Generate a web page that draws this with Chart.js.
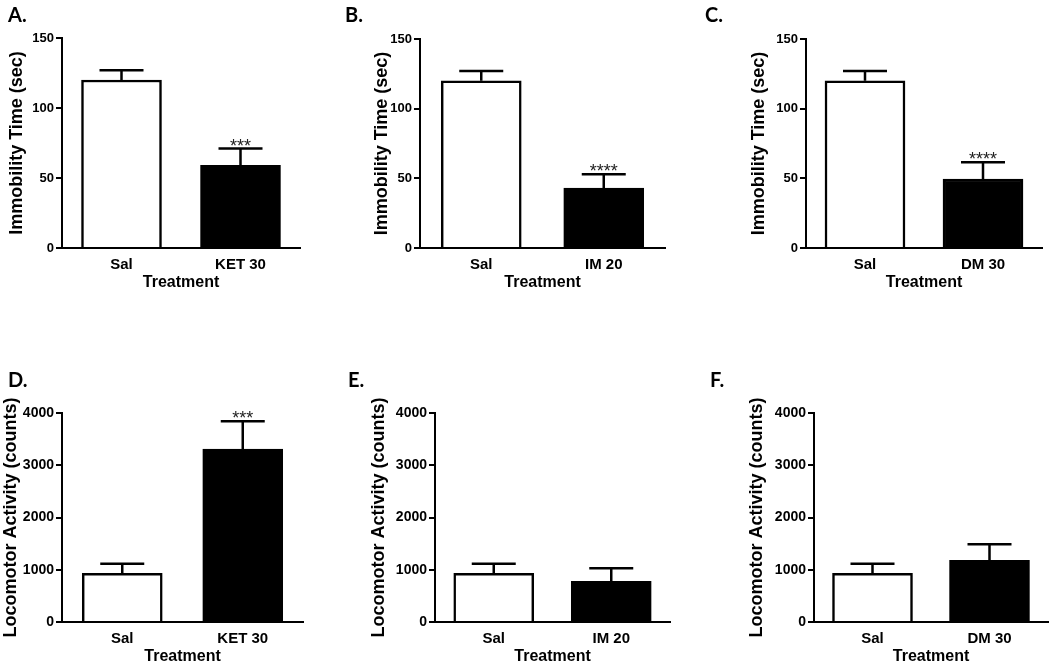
<!DOCTYPE html>
<html>
<head>
<meta charset="utf-8">
<script src="https://cdn.jsdelivr.net/npm/chart.js@4"></script>
<style>
  html, body { margin: 0; padding: 0; background: #fff; width: 1050px; height: 664px; overflow: hidden; }
  canvas { position: absolute; }
  .tag { position: absolute; font: bold 20px Lato, "Open Sans", sans-serif; line-height: 1; color: #000; }
</style>
</head>
<body>
<script>
// categories
const ketLabels = ["Sal", "KET 30"];
const imLabels = ["Sal", "IM 20"];
const dmLabels = ["Sal", "DM 30"];

// forced swim test, immobility (sec), mean and SEM
const immobilityKet = [120, 59];
const immobilityKetErr = [7, 12];
const immobilityIm = [120, 43];
const immobilityImErr = [7, 10];
const immobilityDm = [120, 49.5];
const immobilityDmErr = [7, 12];

// locomotor activity (counts), mean and SEM
const locomotorKet = [930, 3310];
const locomotorKetErr = [185, 530];
const locomotorIm = [930, 780];
const locomotorImErr = [185, 250];
const locomotorDm = [930, 1180];
const locomotorDmErr = [185, 310];

// significance marks
const immobilityKetStars = ["", "***"];
const immobilityImStars = ["", "****"];
const immobilityDmStars = ["", "****"];
const locomotorKetStars = ["", "***"];
const locomotorImStars = ["", ""];
const locomotorDmStars = ["", ""];

// tick labels
const immobilityTicks = [0, 50, 100, 150];
const locomotorTicks = [0, 1000, 2000, 3000, 4000];

const immobilityTitle = "Immobility Time (sec)";
const locomotorTitle = "Locomotor Activity (counts)";
const xTitle = "Treatment";

const FONT = "'Liberation Sans', Arial, sans-serif";

const errorBars = {
  id: "errorBars",
  afterDatasetsDraw(chart) {
    const ctx = chart.ctx;
    const yScale = chart.scales.y;
    chart.data.datasets.forEach((ds, i) => {
      const meta = chart.getDatasetMeta(i);
      meta.data.forEach((bar, j) => {
        const top = yScale.getPixelForValue(ds.data[j] + ds.errors[j]);
        ctx.save();
        ctx.strokeStyle = "#000";
        ctx.lineWidth = 2.5;
        ctx.beginPath();
        ctx.moveTo(bar.x, bar.y);
        ctx.lineTo(bar.x, top);
        ctx.moveTo(bar.x - 22, top);
        ctx.lineTo(bar.x + 22, top);
        ctx.stroke();
        if (ds.stars[j]) {
          ctx.fillStyle = "#222";
          ctx.font = "18px " + FONT;
          ctx.textAlign = "center";
          ctx.textBaseline = "alphabetic";
          ctx.fillText(ds.stars[j], bar.x, top + 3);
        }
        ctx.restore();
      });
    });
  }
};

function makePanel(p) {
  const left = Math.round(p.titleX - 10.8);
  const canvas = document.createElement("canvas");
  const w = p.xEnd - left + 2;
  canvas.style.left = left + "px";
  canvas.style.top = p.top + "px";
  canvas.style.width = w + "px";
  canvas.style.height = p.height + "px";
  canvas.width = w;
  canvas.height = p.height;
  document.body.appendChild(canvas);

  const tag = document.createElement("div");
  tag.className = "tag";
  tag.textContent = p.tag;
  tag.style.left = p.tagX + "px";
  tag.style.top = p.tagY + "px";
  document.body.appendChild(tag);

  const data = {
    labels: p.labels,
    datasets: [{
      data: p.values,
      errors: p.errors,
      stars: p.stars,
      backgroundColor: ["#ffffff", "#000000"],
      borderColor: "#000",
      borderWidth: 2.5,
      barThickness: 80,
    }],
  };

  const config = {
    type: "bar",
    data: data,
    options: {
      responsive: false,
      animation: false,
      layout: { padding: { top: p.chartTop - p.top, right: 2, left: 0, bottom: 0 } },
      plugins: { legend: { display: false }, tooltip: { enabled: false } },
      scales: {
        x: {
          grid: { display: false, drawTicks: false },
          border: { display: true, color: "#000", width: 2 },
          ticks: { color: "#000", font: { family: FONT, size: 15, weight: "bold" }, padding: 8 },
          title: { display: true, text: xTitle, color: "#000", font: { family: FONT, size: 16, weight: "bold" }, padding: { top: 0, bottom: 1 } },
          afterFit: (s) => { s.width; s.height = 45; },
        },
        y: {
          min: 0,
          max: p.ticks[p.ticks.length - 1],
          afterBuildTicks: (s) => { s.ticks = p.ticks.map((v) => ({ value: v })); },
          grid: { display: true, drawOnChartArea: false, drawTicks: true, tickLength: 6, color: "#000", lineWidth: 2 },
          border: { display: true, color: "#000", width: 2 },
          ticks: { color: "#000", font: { family: FONT, size: p.tickSize, weight: "bold" }, padding: 2, callback: (v) => String(v) },
          title: { display: true, text: p.title, color: "#000", font: { family: FONT, size: 18, weight: "bold" }, padding: { top: 0, bottom: 0 } },
          afterFit: (s) => { s.width = p.axisX - left; },
        },
      },
    },
    plugins: [errorBars],
  };

  return new Chart(canvas, config);
}

function mainEvent() {
  const panels = [
    { tag: "A.", labels: ketLabels, values: immobilityKet, errors: immobilityKetErr, stars: immobilityKetStars, ticks: immobilityTicks, title: immobilityTitle,
      titleX: 17, axisX: 62, xEnd: 300, top: 0, chartTop: 38, height: 293, tagX: 8, tagY: 4, tickSize: 13 },
    { tag: "B.", labels: imLabels, values: immobilityIm, errors: immobilityImErr, stars: immobilityImStars, ticks: immobilityTicks, title: immobilityTitle,
      titleX: 382, axisX: 420, xEnd: 665, top: 0, chartTop: 39, height: 293, tagX: 345, tagY: 4, tickSize: 13 },
    { tag: "C.", labels: dmLabels, values: immobilityDm, errors: immobilityDmErr, stars: immobilityDmStars, ticks: immobilityTicks, title: immobilityTitle,
      titleX: 759, axisX: 806, xEnd: 1042, top: 0, chartTop: 39, height: 293, tagX: 705, tagY: 4, tickSize: 13 },
    { tag: "D.", labels: ketLabels, values: locomotorKet, errors: locomotorKetErr, stars: locomotorKetStars, ticks: locomotorTicks, title: locomotorTitle,
      titleX: 11, axisX: 62, xEnd: 303, top: 360, chartTop: 413, height: 307, tagX: 8, tagY: 369, tickSize: 14 },
    { tag: "E.", labels: imLabels, values: locomotorIm, errors: locomotorImErr, stars: locomotorImStars, ticks: locomotorTicks, title: locomotorTitle,
      titleX: 379, axisX: 435, xEnd: 670, top: 360, chartTop: 413, height: 307, tagX: 348, tagY: 369, tickSize: 14 },
    { tag: "F.", labels: dmLabels, values: locomotorDm, errors: locomotorDmErr, stars: locomotorDmStars, ticks: locomotorTicks, title: locomotorTitle,
      titleX: 757, axisX: 814, xEnd: 1048, top: 360, chartTop: 413, height: 307, tagX: 710, tagY: 369, tickSize: 14 },
  ];
  panels.forEach(makePanel);
}

document.addEventListener("DOMContentLoaded", () => mainEvent());
</script>
</body>
</html>
